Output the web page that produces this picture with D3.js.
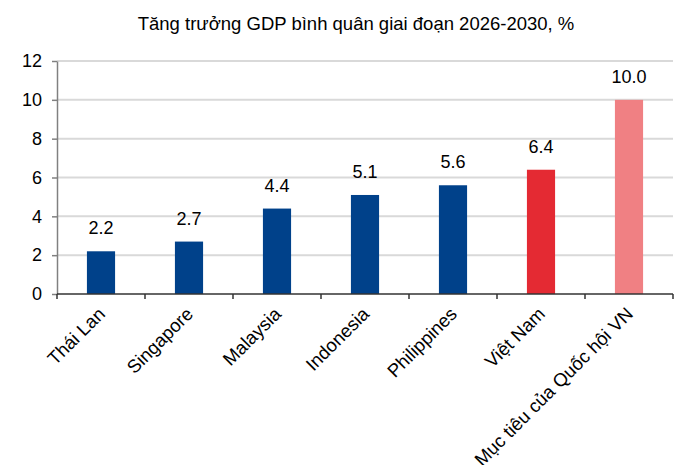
<!DOCTYPE html>
<html>
<head>
<meta charset="utf-8">
<script src="https://cdn.jsdelivr.net/npm/d3@7/dist/d3.min.js"></script>
<style>
  html, body { margin: 0; padding: 0; background: #fff; }
  svg { display: block; font-family: "Liberation Sans", Arial, sans-serif; }
</style>
</head>
<body>
<svg id="chart" width="676" height="465"></svg>
<script>
// Average GDP growth 2026-2030 by economy, %
const categories = ["Thái Lan", "Singapore", "Malaysia", "Indonesia", "Philippines", "Việt Nam", "Mục tiêu của Quốc hội VN"];
const growth = [2.2, 2.7, 4.4, 5.1, 5.6, 6.4, 10.0];
const barColors = ["#00418A", "#00418A", "#00418A", "#00418A", "#00418A", "#E42A33", "#F08083"];
const yTicks = [0, 2, 4, 6, 8, 10, 12];
const title = "Tăng trưởng GDP bình quân giai đoạn 2026-2030, %";

const svg = d3.select("#chart");
const margin = { left: 57, right: 3, top: 61, bottom: 171 };
const W = 676, H = 465;
const FS = 18;

const x = d3.scaleBand()
  .domain(categories)
  .range([margin.left, W - margin.right])
  .paddingInner(0.68)
  .paddingOuter(0.34);

const y = d3.scaleLinear()
  .domain([0, 12])
  .range([H - margin.bottom, margin.top]);

// Title
svg.append("text")
  .attr("x", 356)
  .attr("y", 30)
  .attr("text-anchor", "middle")
  .attr("font-size", 18.5)
  .attr("fill", "#000")
  .text(title);

// Gridlines
svg.append("g")
  .selectAll("line")
  .data(yTicks.filter(d => d > 0))
  .join("line")
  .attr("x1", margin.left)
  .attr("x2", W - margin.right)
  .attr("y1", d => y(d))
  .attr("y2", d => y(d))
  .attr("stroke", "#d9d9d9")
  .attr("stroke-width", 2);

// Y axis
const yAxis = svg.append("g")
  .attr("transform", `translate(${margin.left},0)`)
  .call(d3.axisLeft(y).tickValues(yTicks).tickSize(5).tickPadding(10).tickSizeOuter(0));
yAxis.select(".domain").attr("stroke", "#808080").attr("stroke-width", 1.5);
yAxis.selectAll(".tick line").attr("stroke", "#808080").attr("stroke-width", 1.5);
yAxis.selectAll(".tick text")
  .attr("font-size", FS)
  .attr("font-family", "Liberation Sans, Arial, sans-serif")
  .attr("fill", "#000");

// Bars
svg.append("g")
  .selectAll("rect")
  .data(categories)
  .join("rect")
  .attr("x", d => x(d))
  .attr("width", x.bandwidth())
  .attr("y", (d, i) => y(growth[i]))
  .attr("height", (d, i) => y(0) - y(growth[i]))
  .attr("fill", (d, i) => barColors[i]);

// Value labels
svg.append("g")
  .selectAll("text")
  .data(categories)
  .join("text")
  .attr("x", d => x(d) + x.bandwidth() / 2)
  .attr("y", (d, i) => y(growth[i]) - 17)
  .attr("text-anchor", "middle")
  .attr("font-size", FS)
  .attr("fill", "#000")
  .text((d, i) => growth[i].toFixed(1));

// X axis with ticks at band boundaries
const bounds = d3.range(categories.length + 1).map(i => margin.left + i * (W - margin.left - margin.right) / categories.length);
const xg = svg.append("g");
xg.append("line")
  .attr("x1", margin.left).attr("x2", W - margin.right)
  .attr("y1", y(0)).attr("y2", y(0))
  .attr("stroke", "#333").attr("stroke-width", 1.5);
xg.selectAll("line.tk")
  .data(bounds)
  .join("line")
  .attr("class", "tk")
  .attr("x1", d => d).attr("x2", d => d)
  .attr("y1", y(0)).attr("y2", y(0) + 5)
  .attr("stroke", "#333").attr("stroke-width", 1.5);

// Rotated category labels
xg.selectAll("text")
  .data(categories)
  .join("text")
  .attr("transform", d => `translate(${x(d) + x.bandwidth() / 2 - 4},${y(0) + 12}) rotate(-45)`)
  .attr("text-anchor", "end")
  .attr("dy", "0.7em")
  .attr("font-size", 18.5)
  .attr("fill", "#000")
  .text(d => d);
</script>
</body>
</html>
